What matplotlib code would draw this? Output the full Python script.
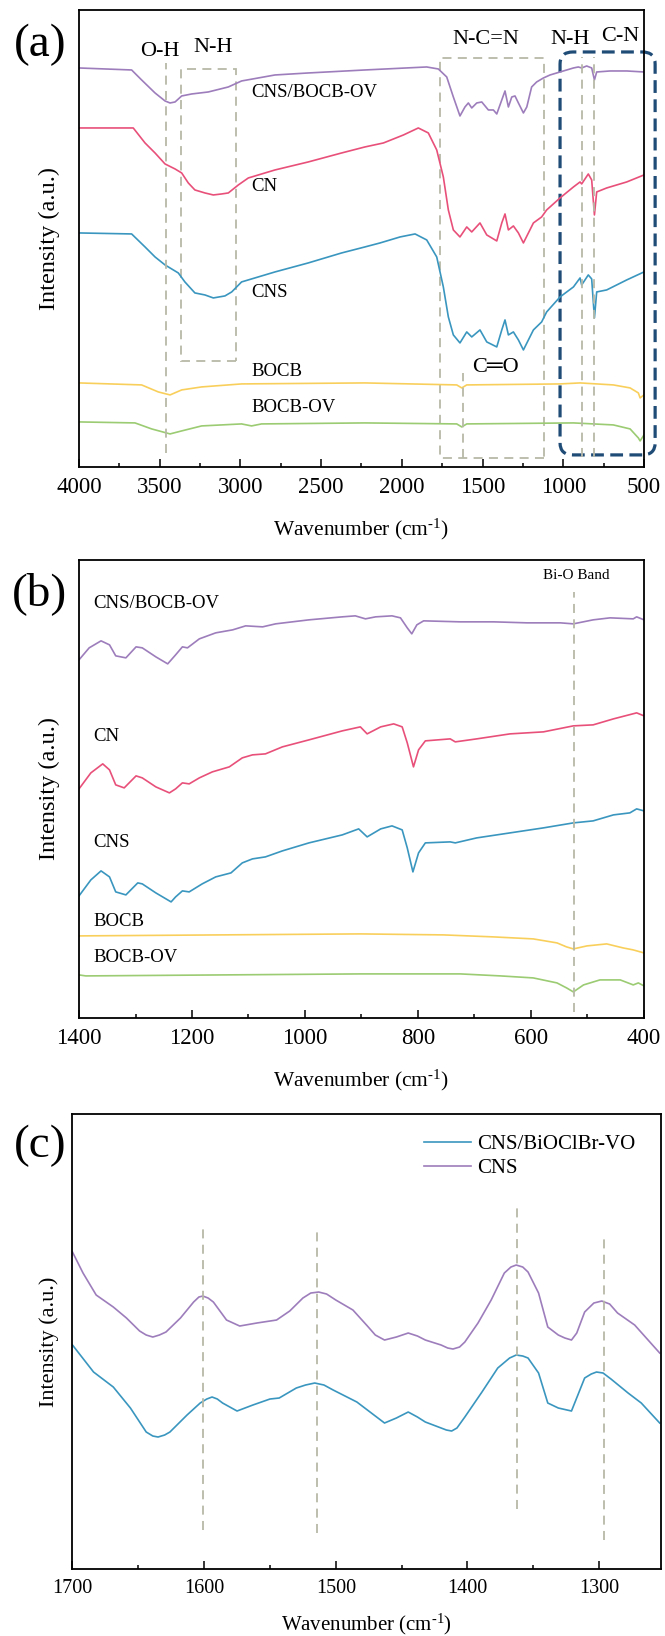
import matplotlib.pyplot as plt
from matplotlib.patches import Rectangle, FancyBboxPatch
from matplotlib.ticker import MultipleLocator

plt.rcParams['font.family'] = ['Liberation Serif', 'DejaVu Sans']
plt.rcParams['mathtext.fontset'] = 'custom'
plt.rcParams['mathtext.rm'] = 'Liberation Serif'
plt.rcParams['mathtext.it'] = 'Liberation Serif:italic'

PURPLE = '#9D7DBB'
PINK = '#E8507A'
BLUE = '#3A96BF'
YELLOW = '#F9CF5C'
GREEN = '#9BCB72'
GUIDE = '#B7B9A7'
NAVY = '#1F4B77'

# ---- panel (a): full range FTIR (arbitrary offset units) ----
a_cnsbocb_wn = [4000, 3674, 3612, 3529, 3467, 3436, 3405, 3364, 3302, 3199, 3075, 2993, 2786, 2580, 2229,
                1846, 1774, 1722, 1681, 1640, 1609, 1588, 1567, 1536, 1505, 1464, 1433, 1412, 1381, 1361,
                1340, 1319, 1299, 1278, 1247, 1226, 1196, 1165, 1123, 1082, 1020, 937, 907, 886, 855,
                824, 807, 793, 710, 607, 500]
a_cnsbocb = [399, 397, 387, 374, 366, 364, 365, 371, 373, 375, 380, 386, 392, 394, 397,
             400, 398, 390, 370, 351, 360, 364, 359, 364, 365, 357, 357, 353, 367, 376,
             360, 370, 371, 364, 354, 360, 380, 385, 389, 392, 395, 399, 400, 399, 401,
             399, 387, 395, 396, 396, 395]

a_cn_wn = [4000, 3664, 3591, 3529, 3467, 3405, 3364, 3323, 3282, 3220, 3168, 3116, 3075, 3013, 2951,
           2786, 2580, 2373, 2229, 2114, 1990, 1898, 1836, 1784, 1743, 1712, 1681, 1640, 1598, 1567,
           1516, 1474, 1412, 1381, 1361, 1340, 1309, 1278, 1247, 1216, 1185, 1134, 1103, 1020, 937,
           896, 886, 845, 824, 807, 793, 731, 607, 500]
a_cn = [339, 339, 324, 314, 303, 298, 294, 284, 277, 274, 272, 273, 274, 282, 289,
        297, 305, 314, 320, 324, 332, 339, 334, 317, 290, 257, 237, 230, 240, 235,
        244, 232, 226, 244, 253, 237, 241, 234, 224, 234, 244, 250, 257, 269, 280,
        285, 283, 293, 287, 252, 275, 279, 285, 292]

a_cns_wn = [4000, 3674, 3591, 3529, 3467, 3385, 3344, 3282, 3220, 3168, 3096, 3054, 2993, 2786, 2580,
            2373, 2229, 2135, 2011, 1918, 1846, 1784, 1743, 1712, 1681, 1640, 1598, 1567, 1516, 1474,
            1412, 1381, 1361, 1340, 1309, 1278, 1247, 1216, 1185, 1134, 1103, 1020, 937, 896, 886,
            845, 824, 807, 793, 731, 607, 500]
a_cns = [234, 233, 220, 210, 202, 194, 185, 174, 172, 169, 171, 175, 185, 195, 204,
         214, 220, 224, 230, 233, 227, 210, 180, 150, 132, 124, 135, 130, 137, 125,
         120, 137, 147, 132, 135, 127, 117, 127, 137, 145, 155, 170, 180, 189, 182,
         192, 188, 149, 175, 177, 187, 195]

a_bocb_wn = [4000, 3612, 3509, 3436, 3364, 3240, 2993, 2229, 1660, 1629, 1598, 1020, 896, 690, 586, 535, 524, 500]
a_bocb = [84, 82, 75, 72, 77, 80, 83, 84, 82, 79, 82, 83, 84, 82, 79, 74, 69, 72]

a_bocbov_wn = [4000, 3653, 3550, 3436, 3364, 3240, 2993, 2931, 2869, 2229, 1660, 1629, 1598, 937, 690, 586, 535, 524, 500]
a_bocbov = [45, 44, 38, 33, 36, 41, 43, 41, 43, 44, 43, 40, 43, 44, 42, 38, 29, 26, 32]

# ---- panel (b): 1400-400 region ----
b_cnsbocb_wn = [1400, 1382, 1361, 1346, 1335, 1317, 1299, 1288, 1264, 1243, 1229, 1217, 1208, 1187, 1158,
                1128, 1105, 1075, 1052, 993, 934, 911, 893, 875, 846, 831, 819, 811, 802, 790,
                725, 666, 607, 548, 525, 490, 460, 419, 413, 400]
b_cnsbocb = [358, 370, 377, 373, 362, 360, 371, 370, 361, 354, 363, 371, 370, 379, 385,
             388, 392, 391, 394, 398, 401, 402, 399, 401, 402, 400, 390, 384, 393, 397,
             396, 396, 395, 395, 394, 398, 400, 399, 401, 398]

b_cn_wn = [1400, 1379, 1358, 1346, 1335, 1320, 1299, 1288, 1264, 1240, 1229, 1217, 1205, 1187, 1164,
           1134, 1111, 1093, 1070, 1040, 993, 934, 902, 890, 866, 843, 828, 819, 808, 799,
           787, 743, 734, 696, 637, 578, 525, 490, 454, 413, 400]
b_cn = [229, 245, 254, 248, 233, 230, 242, 240, 231, 225, 229, 235, 234, 240, 246,
        251, 260, 263, 264, 271, 278, 287, 291, 284, 291, 294, 291, 275, 251, 268,
        277, 279, 276, 279, 284, 286, 292, 293, 299, 305, 302]

b_cns_wn = [1400, 1379, 1361, 1346, 1335, 1317, 1296, 1288, 1264, 1237, 1229, 1217, 1205, 1182, 1158,
            1131, 1111, 1093, 1070, 1040, 993, 934, 905, 890, 866, 846, 828, 819, 809, 799,
            787, 743, 734, 696, 637, 578, 525, 490, 454, 425, 413, 400]
b_cns = [122, 138, 147, 141, 126, 123, 135, 134, 125, 116, 121, 127, 126, 134, 141,
         145, 155, 159, 161, 167, 175, 183, 189, 181, 189, 192, 188, 170, 146, 165,
         175, 176, 175, 180, 185, 190, 195, 197, 203, 205, 209, 207]

b_bocb_wn = [1400, 902, 755, 666, 596, 554, 537, 525, 501, 466, 437, 419, 400]
b_bocb = [82, 84, 83, 81, 79, 75, 71, 69, 72, 74, 70, 68, 65]

b_bocbov_wn = [1400, 1388, 902, 725, 654, 596, 554, 537, 525, 507, 478, 442, 419, 410, 400]
b_bocbov = [43, 42, 44, 44, 42, 40, 35, 30, 26, 33, 38, 38, 33, 35, 32]

# ---- panel (c): 1700-1250 region ----
c_cns_wn = [1700, 1692, 1682, 1669, 1659, 1649, 1644, 1639, 1634, 1629, 1618, 1608, 1604, 1601, 1597,
            1593, 1583, 1573, 1560, 1545, 1535, 1525, 1519, 1513, 1507, 1500, 1487, 1476, 1470, 1463,
            1454, 1445, 1438, 1432, 1420, 1415, 1411, 1406, 1402, 1392, 1382, 1372, 1367, 1363, 1358,
            1354, 1346, 1339, 1331, 1326, 1321, 1317, 1311, 1304, 1298, 1292, 1286, 1273, 1254]
c_cns = [317, 296, 274, 262, 251, 238, 234, 232, 234, 237, 251, 267, 272, 273, 271,
         267, 249, 243, 246, 249, 258, 271, 276, 277, 275, 269, 259, 243, 234, 229,
         232, 236, 233, 229, 224, 221, 220, 222, 227, 246, 269, 296, 302, 304, 302,
         297, 276, 242, 234, 231, 229, 236, 257, 266, 268, 265, 256, 244, 216]

c_mix_wn = [1700, 1684, 1669, 1656, 1644, 1639, 1635, 1630, 1626, 1613, 1603, 1598, 1594, 1590, 1586,
            1575, 1563, 1550, 1543, 1530, 1523, 1516, 1509, 1502, 1484, 1474, 1463, 1454, 1445, 1438,
            1432, 1422, 1416, 1412, 1408, 1402, 1389, 1377, 1368, 1363, 1358, 1354, 1346, 1339, 1331,
            1321, 1311, 1306, 1302, 1297, 1291, 1278, 1268, 1254]
c_mix = [224, 197, 182, 161, 137, 133, 132, 134, 137, 154, 166, 170, 172, 170, 166,
         158, 164, 170, 171, 181, 184, 186, 184, 179, 167, 157, 146, 151, 157, 152,
         147, 142, 139, 138, 141, 152, 177, 201, 211, 214, 213, 211, 196, 166, 161,
         158, 191, 195, 197, 196, 190, 176, 166, 146]

c_peaks = [1601, 1514, 1362, 1296]
c_peak_lo = [39, 36, 60, 29]
c_peak_hi = [343, 339, 361, 332]

LW = 1.2
DASH = (0, (5, 3.5))
XLABEL = 'Wavenumber (cm$^{\u2010 1}$)'


def style_axis(ax, xlim, ylim, major, minor, tfs, lfs, yfs):
    ax.set_xlim(*xlim)
    ax.set_ylim(*ylim)
    ax.xaxis.set_major_locator(MultipleLocator(major))
    ax.xaxis.set_minor_locator(MultipleLocator(minor))
    ax.tick_params(axis='x', which='major', direction='in', length=5.5, width=1.1,
                   labelsize=tfs, pad=7, top=False)
    ax.tick_params(axis='x', which='minor', direction='in', length=2.8, width=1.1, top=False)
    ax.tick_params(axis='y', which='both', left=False, labelleft=False)
    for sp in ax.spines.values():
        sp.set_linewidth(1.3)
    ax.set_xlabel(XLABEL, fontsize=lfs, labelpad=14)
    ax.set_ylabel('Intensity (a.u.)', fontsize=yfs, labelpad=14)


fig = plt.figure(figsize=(6.65, 16.36), dpi=100)

# ---------------- (a) ----------------
ax = fig.add_axes([0.1188, 0.7146, 0.8496, 0.2793])
ax.plot(a_cnsbocb_wn, a_cnsbocb, color=PURPLE, lw=LW)
ax.plot(a_cn_wn, a_cn, color=PINK, lw=LW)
ax.plot(a_cns_wn, a_cns, color=BLUE, lw=LW)
ax.plot(a_bocb_wn, a_bocb, color=YELLOW, lw=LW)
ax.plot(a_bocbov_wn, a_bocbov, color=GREEN, lw=LW)
style_axis(ax, (4000, 500), (0, 457), 500, 250, 16.5, 15.5, 17.5)

ax.vlines([3463], 14, 404, colors=GUIDE, lw=1.3, linestyles=[DASH])
ax.vlines([1623], 9, 94, colors=GUIDE, lw=1.3, linestyles=[DASH])
ax.vlines([886, 807], 10, 410, colors=GUIDE, lw=1.3, linestyles=[DASH])
ax.add_patch(Rectangle((3030, 106), 338, 292, fill=False, ec=GUIDE, lw=1.3, ls=DASH))
ax.add_patch(Rectangle((1117, 9), 646, 400, fill=False, ec=GUIDE, lw=1.3, ls=DASH))
ax.add_patch(FancyBboxPatch((431, 12), 589, 403, boxstyle='round,pad=0,rounding_size=80',
                            mutation_aspect=0.15, fill=False, ec=NAVY, lw=2.3,
                            ls=(0, (4, 2)), clip_on=False))

for s, x, y in [('O-H', 3498, 415), ('N-H', 3168, 419), ('N-C=N', 1478, 427),
                ('N-H', 958, 427), ('C-N', 648, 430), ('C\u2550O', 1423, 99)]:
    ax.text(x, y, s, fontsize=16, ha='center', va='center', clip_on=False)

for s, y in [('CNS/BOCB-OV', 374), ('CN', 280), ('CNS', 174), ('BOCB', 95), ('BOCB-OV', 59)]:
    ax.text(2934, y, s, fontsize=13.5, ha='left', va='center')

# ---------------- (b) ----------------
ax = fig.add_axes([0.1188, 0.3778, 0.8496, 0.2800])
ax.plot(b_cnsbocb_wn, b_cnsbocb, color=PURPLE, lw=LW)
ax.plot(b_cn_wn, b_cn, color=PINK, lw=LW)
ax.plot(b_cns_wn, b_cns, color=BLUE, lw=LW)
ax.plot(b_bocb_wn, b_bocb, color=YELLOW, lw=LW)
ax.plot(b_bocbov_wn, b_bocbov, color=GREEN, lw=LW)
style_axis(ax, (1400, 400), (0, 458), 200, 100, 16.5, 15.5, 17.5)

ax.vlines([524], 6, 426, colors=GUIDE, lw=1.3, linestyles=[DASH])
ax.text(520, 442, 'Bi-O Band', fontsize=11, ha='center', va='center')
for s, y in [('CNS/BOCB-OV', 414), ('CN', 281), ('CNS', 175), ('BOCB', 96), ('BOCB-OV', 60)]:
    ax.text(1375, y, s, fontsize=13.5, ha='left', va='center')

# ---------------- (c) ----------------
ax = fig.add_axes([0.109, 0.04095, 0.885, 0.2781])
ax.plot(c_mix_wn, c_mix, color=BLUE, lw=LW, label='CNS/BiOClBr-VO')
ax.plot(c_cns_wn, c_cns, color=PURPLE, lw=LW, label='CNS')
style_axis(ax, (1700, 1253), (0, 455), 100, 50, 14.5, 15, 16)
ax.xaxis.labelpad = 10
ax.yaxis.labelpad = 10
ax.vlines(c_peaks, c_peak_lo, c_peak_hi, colors=GUIDE, lw=1.3, linestyles=[DASH])
ax.legend(loc='upper left', bbox_to_anchor=(0.597, 0.955), frameon=False, fontsize=15,
          handlelength=2.25, handletextpad=0.3, labelspacing=0.2, borderpad=0, borderaxespad=0)

for lab, y in [('(a)', 0.9725), ('(b)', 0.6369), ('(c)', 0.2995)]:
    fig.text(0.060, y, lab, fontsize=34, ha='center', va='center')

fig.savefig('out.png', dpi=100)
